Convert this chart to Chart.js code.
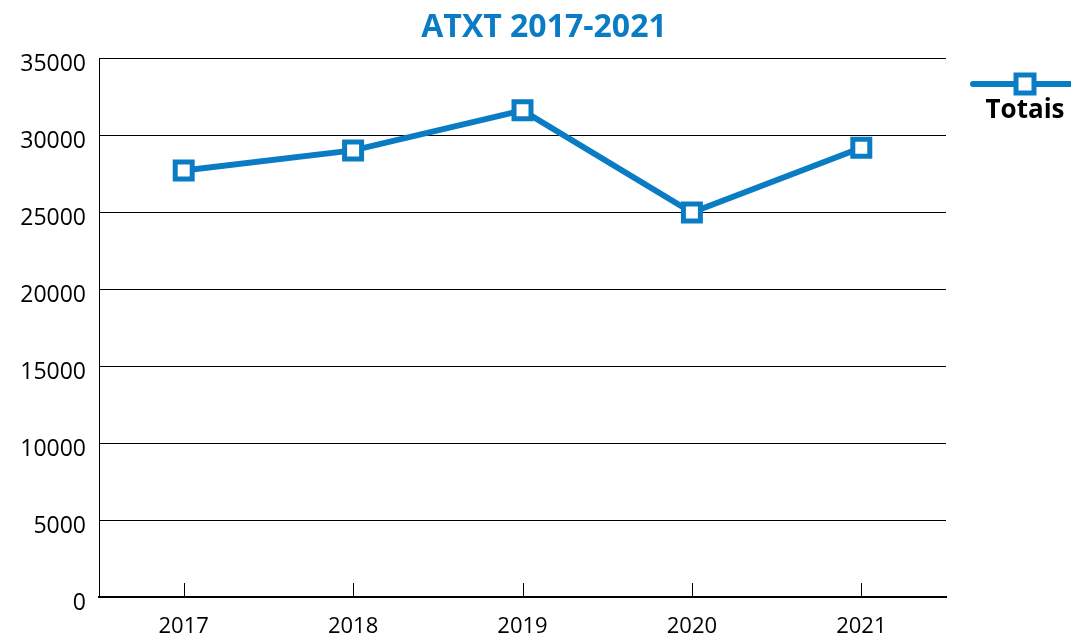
<!DOCTYPE html>
<html>
<head>
<meta charset="utf-8">
<script src="https://cdn.jsdelivr.net/npm/chart.js@4/dist/chart.umd.min.js"></script>
<style>
    html, body { margin: 0; padding: 0; background: #fff; }
    #wrap { width: 1071px; height: 638px; position: relative; }
</style>
</head>
<body>
<div id="wrap"><canvas id="chart"></canvas></div>
<script>
const years = ['2017', '2018', '2019', '2020', '2021'];
const totais = [27700, 29000, 31600, 24970, 29170];
const seriesName = 'Totais';
const chartTitle = 'ATXT 2017-2021';

const BLUE = '#0a7cc4';
const FONT = "'Open Sans', sans-serif";

// title + legend drawn by hand, the legend in the picture sits stacked (marker above label)
const extras = {
    id: 'extras',
    afterDraw(chart) {
        const ctx = chart.ctx;
        const area = chart.chartArea;
        const x = chart.scales.x;

        ctx.save();
        // small ticks pointing up from the x axis
        ctx.strokeStyle = '#000';
        ctx.lineWidth = 1;
        years.forEach((y, i) => {
            const px = Math.round(x.getPixelForValue(i)) + 0.5;
            ctx.beginPath();
            ctx.moveTo(px, area.bottom - 14);
            ctx.lineTo(px, area.bottom);
            ctx.stroke();
        });

        // title
        ctx.fillStyle = BLUE;
        ctx.font = `bold 32px ${FONT}`;
        ctx.textAlign = 'center';
        ctx.textBaseline = 'middle';
        ctx.fillText(chartTitle, 544, 28);

        // legend
        const ly = 84;
        ctx.strokeStyle = BLUE;
        ctx.lineWidth = 6;
        ctx.lineCap = 'round';
        ctx.beginPath();
        ctx.moveTo(973, ly);
        ctx.lineTo(1075, ly);
        ctx.stroke();
        ctx.fillStyle = '#fff';
        ctx.lineWidth = 5;
        ctx.fillRect(1016, ly - 9, 18, 18);
        ctx.strokeRect(1016, ly - 9, 18, 18);

        ctx.fillStyle = '#000';
        ctx.font = `bold 26px ${FONT}`;
        ctx.fillText(seriesName, 1025, 111);
        ctx.restore();
    }
};

new Chart(document.getElementById('chart'), {
    type: 'line',
    data: {
        labels: years,
        datasets: [{
            label: seriesName,
            data: totais,
            borderColor: BLUE,
            borderWidth: 6,
            pointStyle: 'rect',
            pointRadius: 12,
            pointBorderWidth: 5,
            pointBackgroundColor: '#fff',
            pointBorderColor: BLUE,
            tension: 0,
        }],
    },
    options: {
        responsive: true,
        maintainAspectRatio: false,
        animation: false,
        devicePixelRatio: 1,
        layout: {
            padding: { left: 0, right: 125, top: 58, bottom: 0 },
        },
        plugins: {
            legend: { display: false },
            title: { display: false },
            tooltip: { enabled: false },
        },
        scales: {
            x: {
                offset: true,
                grid: { display: false, drawTicks: false },
                border: { display: true, color: '#000', width: 2 },
                ticks: {
                    color: '#000',
                    padding: 17,
                    font: { size: 22, family: FONT },
                },
                afterFit(scale) { scale.height = 41; },
            },
            y: {
                min: 0,
                max: 35000,
                grid: { color: '#000', lineWidth: 1, drawTicks: false },
                border: { display: true, color: '#000', width: 1 },
                ticks: {
                    stepSize: 5000,
                    color: '#000',
                    padding: 13,
                    labelOffset: 6,
                    font: { size: 23, family: FONT },
                    callback: (v) => String(v),
                },
                afterFit(scale) { scale.width = 99; },
            },
        },
    },
    plugins: [extras],
});
</script>
</body>
</html>
